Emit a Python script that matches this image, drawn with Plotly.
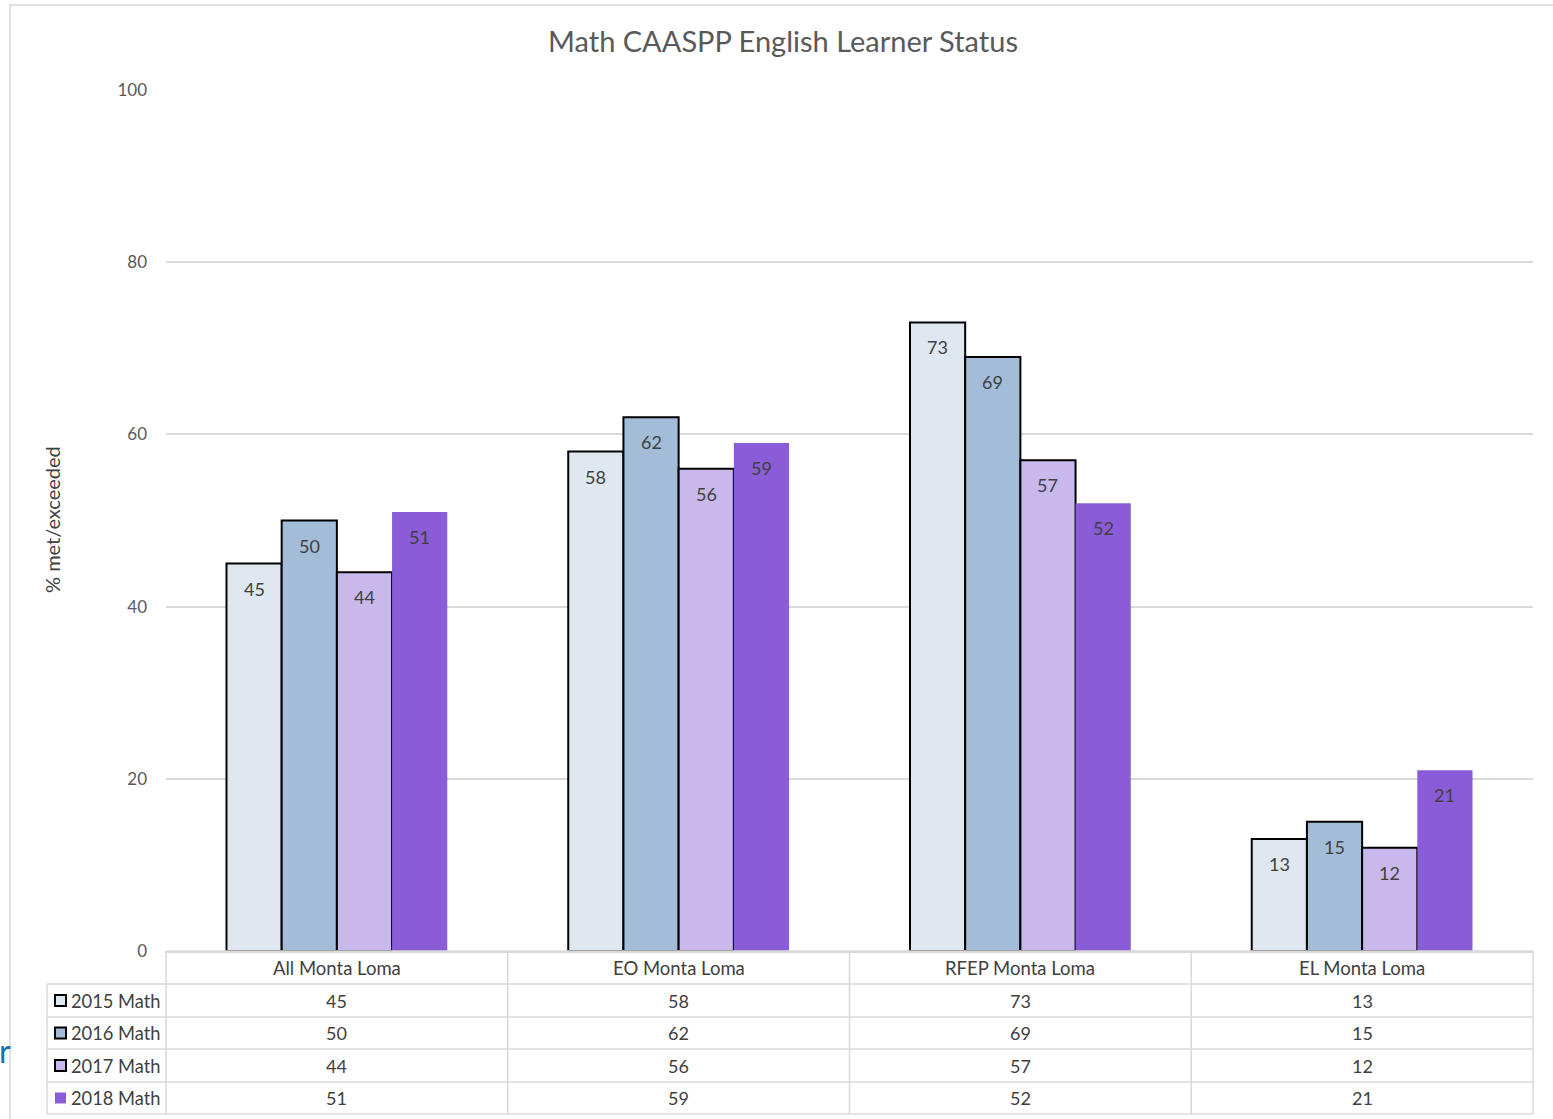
import plotly.graph_objects as go

categories = ["All Monta Loma", "EO Monta Loma", "RFEP Monta Loma", "EL Monta Loma"]
series_names = ["2015 Math", "2016 Math", "2017 Math", "2018 Math"]
v2015 = [45, 58, 73, 13]
v2016 = [50, 62, 69, 15]
v2017 = [44, 56, 57, 12]
v2018 = [51, 59, 52, 21]
series_values = [v2015, v2016, v2017, v2018]
colors = ["#dfe8f0", "#a3bcd8", "#c9b8ec", "#8a5cd8"]
outline = [2, 2, 2, 0]
y_ticks = [0, 20, 40, 60, 80, 100]

W, H = 1553, 1119
L, R, T, B = 166, 20, 90, 168
pw, ph = W - L - R, H - T - B
BARGAP = 0.354

def px(x):
    return (x - L) / pw

def py(y):
    return (H - B - y) / ph

TXT = "#404040"
GRID = "#d9d9d9"
FONT = "Lato"

fig = go.Figure()
for name, vals, c, lw in zip(series_names, series_values, colors, outline):
    fig.add_trace(go.Bar(
        x=categories, y=vals, name=name,
        marker=dict(color=c, line=dict(color="#000000", width=lw)),
        cliponaxis=False,
    ))

fig.update_layout(
    width=W, height=H,
    margin=dict(l=L, r=R, t=T, b=B, autoexpand=False),
    paper_bgcolor="white", plot_bgcolor="white",
    barmode="group", bargap=BARGAP, bargroupgap=0,
    showlegend=False,
    font=dict(family=FONT, color=TXT),
    title=dict(text="Math CAASPP English Learner Status", x=px(783), xref="paper",
               xanchor="center", y=1 - 42 / H, yanchor="middle",
               font=dict(size=29, color="#595959", family=FONT)),
)
fig.update_xaxes(showticklabels=False, showline=True, linecolor=GRID, linewidth=1.5,
                 ticks="", range=[-0.5, 3.5])
fig.update_yaxes(range=[0, 100], tickvals=y_ticks, showgrid=True, gridcolor=GRID,
                 gridwidth=1.5, zeroline=False, ticklabelstandoff=18,
                 tickfont=dict(size=17, color="#595959", family=FONT))

shapes = []
ann = []

# bar value labels, placed inside each bar just below its top
nser = len(series_values)
bw = (1 - BARGAP) / nser
for i, vals in enumerate(series_values):
    for j, v in enumerate(vals):
        ann.append(dict(x=j + (i - (nser - 1) / 2) * bw, xref="x", y=v, yref="y",
                        text=str(v), showarrow=False, xanchor="center", yanchor="top",
                        yshift=-12, font=dict(size=18, color=TXT, family=FONT)))

# outer chart frame
shapes.append(dict(type="rect", xref="paper", yref="paper", x0=px(10), x1=px(1600),
                   y0=py(1130), y1=py(5), line=dict(color=GRID, width=1.5)))
# data table grid
row_edges = [951, 984, 1017, 1049, 1082, 1114]
col_edges = [L + i * pw / 4 for i in range(5)]
shapes.append(dict(type="line", xref="paper", yref="paper", x0=px(L), x1=px(L + pw),
                   y0=py(951), y1=py(951), line=dict(color=GRID, width=1.5)))
for ye in row_edges[1:]:
    shapes.append(dict(type="line", xref="paper", yref="paper", x0=px(47), x1=px(L + pw),
                       y0=py(ye), y1=py(ye), line=dict(color=GRID, width=1.5)))
for xe in col_edges:
    shapes.append(dict(type="line", xref="paper", yref="paper", x0=px(xe), x1=px(xe),
                       y0=py(951), y1=py(1114), line=dict(color=GRID, width=1.5)))
shapes.append(dict(type="line", xref="paper", yref="paper", x0=px(47), x1=px(47),
                   y0=py(984), y1=py(1114), line=dict(color=GRID, width=1.5)))

# header
for cat in categories:
    ann.append(dict(x=cat, xref="x", y=py(967.5), yref="paper", text=cat, showarrow=False,
                    xanchor="center", yanchor="middle",
                    font=dict(size=18.5, color=TXT, family=FONT)))
# rows
for i, (name, vals, c, lw) in enumerate(zip(series_names, series_values, colors, outline)):
    yc = (row_edges[i + 1] + row_edges[i + 2]) / 2
    for cat, v in zip(categories, vals):
        ann.append(dict(x=cat, xref="x", y=py(yc), yref="paper", text=str(v), showarrow=False,
                        xanchor="center", yanchor="middle",
                        font=dict(size=18, color=TXT, family=FONT)))
    shapes.append(dict(type="rect", xref="paper", yref="paper", x0=px(55), x1=px(66),
                       y0=py(yc + 5.5), y1=py(yc - 5.5), fillcolor=c,
                       line=dict(color="#000000", width=2 if lw else 0)))
    ann.append(dict(x=px(69), xref="paper", y=py(yc), yref="paper", text=name, showarrow=False,
                    xanchor="left", yanchor="middle",
                    font=dict(size=18.3, color=TXT, family=FONT)))

# y axis title
ann.append(dict(x=px(52), xref="paper", y=py(520), yref="paper", text="% met/exceeded",
                textangle=-90, showarrow=False, xanchor="center", yanchor="middle",
                font=dict(size=20, color=TXT, family=FONT)))
# stray cropped character at left edge of the screenshot
ann.append(dict(x=px(-3), xref="paper", y=py(1050), yref="paper", text="r",
                showarrow=False, xanchor="left", yanchor="middle",
                font=dict(size=32, color="#1f6fb8", family=FONT)))

fig.update_layout(shapes=shapes, annotations=ann)
fig.write_html("out.html")
